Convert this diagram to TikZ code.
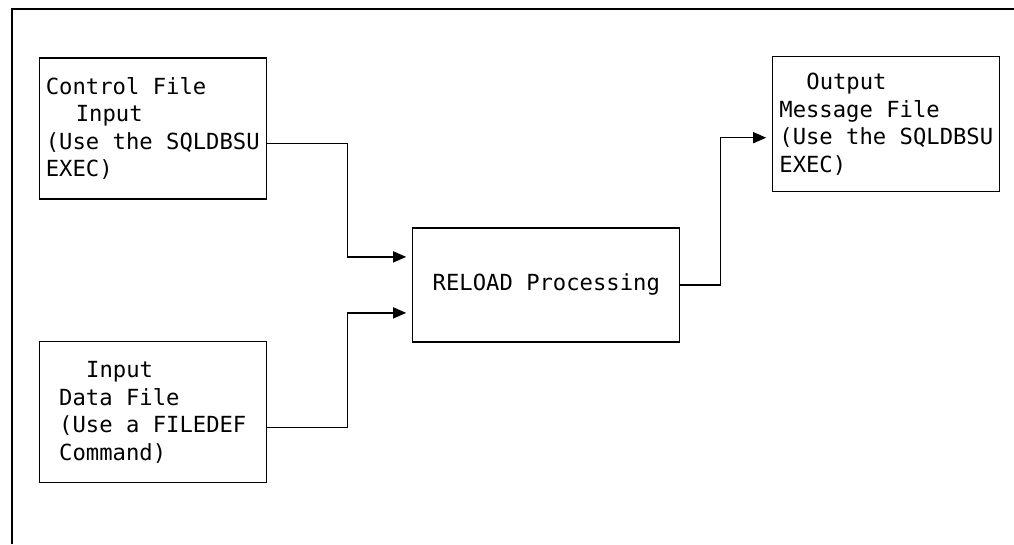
\documentclass[tikz,border=0pt]{standalone}
\usepackage{fontspec}
\setmonofont{DejaVu Sans Mono}
\usetikzlibrary{arrows.meta}

\begin{document}
\begin{tikzpicture}[x=1pt, y=-1pt, line width=1.2pt,
    filebox/.style={draw, align=left, minimum width=227pt, minimum height=141pt,
      font=\fontsize{22.2}{27.6}\selectfont\ttfamily},
    flow/.style={-{Triangle[length=13pt,width=11pt]}, shorten >=6pt}]
  \useasboundingbox (0,0) rectangle (1014,544);
  \draw (12,544) -- (12,9) -- (1014,9);
  \node[filebox] (ctlfile) at (152.8,128.5) {Control File\\\hspace*{30pt}Input\\(Use the SQLDBSU\\EXEC)};
  \node[filebox] (datafile) at (152.8,412.2) {\hspace*{27pt}Input\\Data File\\(Use a FILEDEF\\Command)};
  \node[filebox, minimum width=267pt, minimum height=114pt] (reload) at (546.3,284.9) {RELOAD Processing};
  \node[filebox, minimum height=135pt] (msgfile) at (886.3,124.2) {\hspace*{27pt}Output\\Message File\\(Use the SQLDBSU\\EXEC)};
  \draw[flow] ([yshift=-15pt]ctlfile.east) -- ++(80.4,0) |- ([yshift=28pt]reload.west);
  \draw[flow] ([yshift=-15pt]datafile.east) -- ++(80.4,0) |- ([yshift=-28pt]reload.west);
  \draw[flow] (reload.east) -- ++(40,0) |- ([yshift=-13.5pt]msgfile.west);
\end{tikzpicture}
\end{document}
